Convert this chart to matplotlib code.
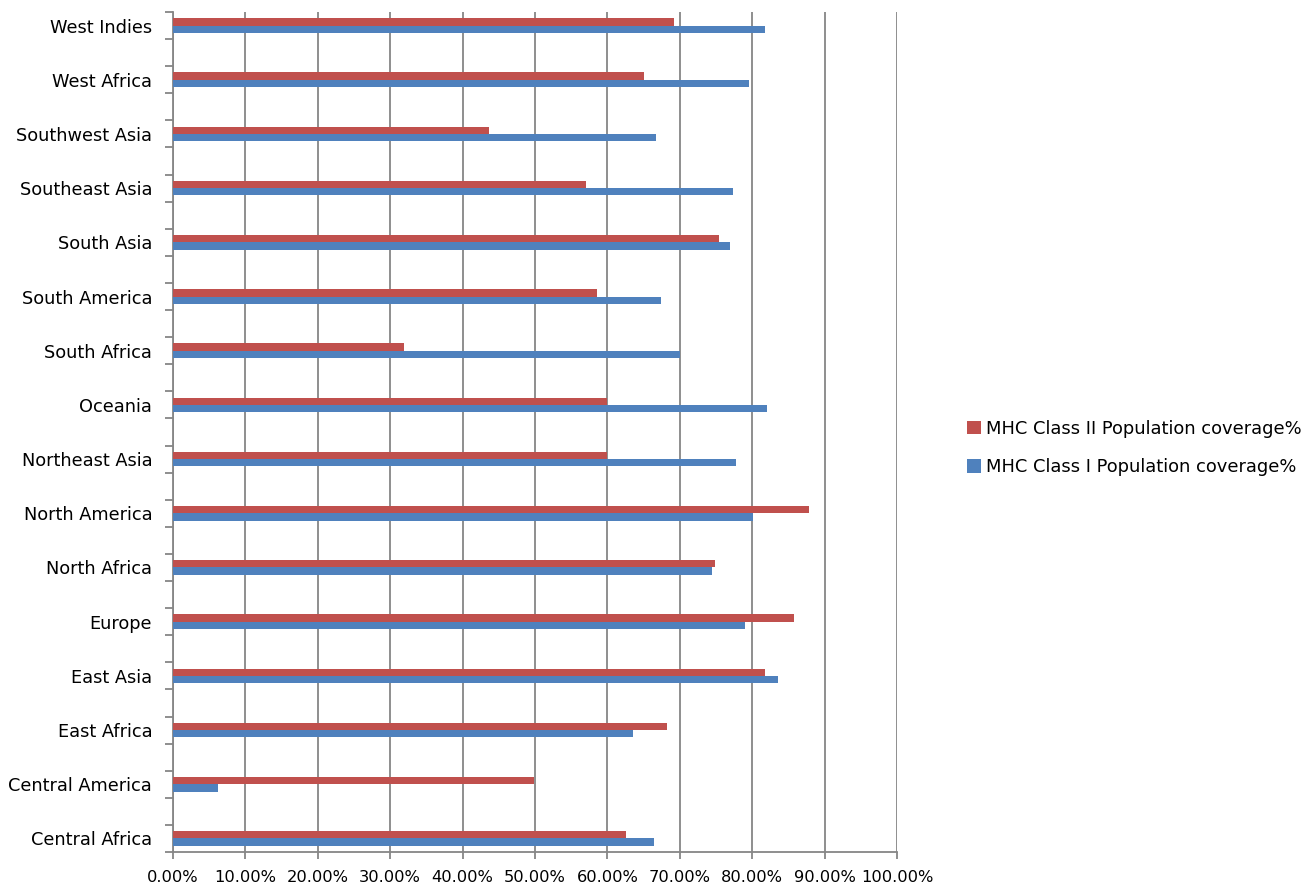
import matplotlib
matplotlib.use("Agg")
import matplotlib.pyplot as plt
from matplotlib.ticker import FixedLocator, FuncFormatter
from matplotlib.patches import Patch
import numpy as np

regions = [
    "Central Africa", "Central America", "East Africa", "East Asia", "Europe",
    "North Africa", "North America", "Northeast Asia", "Oceania", "South Africa",
    "South America", "South Asia", "Southeast Asia", "Southwest Asia",
    "West Africa", "West Indies",
]
class_i = [66.5, 6.2, 63.6, 83.6, 79.0, 74.4, 80.1, 77.8, 82.0, 70.0,
           67.4, 77.0, 77.4, 66.7, 79.5, 81.7]
class_ii = [62.6, 49.9, 68.3, 81.7, 85.8, 74.9, 87.9, 60.0, 60.0, 31.9,
            58.5, 75.4, 57.0, 43.7, 65.1, 69.2]
series_names = ["MHC Class II Population coverage%", "MHC Class I Population coverage%"]
x_ticks = np.arange(0, 101, 10)

red = "#C0504D"
blue = "#4F81BD"
grid_c = "#868686"

plt.rcParams["font.family"] = ["DejaVu Sans"]

fig = plt.figure(figsize=(13.15, 8.91), dpi=100)
W, H = 1315, 891
ax = fig.add_axes([173 / W, (H - 852) / H, (897 - 173) / W, (852 - 12) / H])

# each region gets one slot, with an empty slot between regions
pos = np.arange(len(regions)) * 2
h = 0.27
ax.barh(pos - h / 2, np.array(class_i) / 100, height=h, color=blue, zorder=3)
ax.barh(pos + h / 2, np.array(class_ii) / 100, height=h, color=red, zorder=3)

ax.set_xlim(0, 1.0)
ax.set_ylim(-0.5, pos[-1] + 0.5)

ax.xaxis.set_major_locator(FixedLocator(x_ticks / 100))
ax.xaxis.set_major_formatter(FuncFormatter(lambda v, p: f"{v * 100:.2f}%"))
ax.grid(axis="x", color=grid_c, linewidth=1.3, zorder=0)

ax.set_yticks(pos)
ax.set_yticklabels(regions)
ax.set_yticks(np.arange(-0.5, pos[-1] + 0.6, 1.0), minor=True)
ax.tick_params(axis="y", which="major", length=0, pad=15, labelsize=12.8, colors="black")
ax.tick_params(axis="y", which="minor", length=6, width=1.3, color=grid_c)
ax.tick_params(axis="x", which="major", length=5, width=1.3, color=grid_c, pad=8,
               labelsize=11.7, labelcolor="black")

for side in ["top", "right"]:
    ax.spines[side].set_visible(False)
for side in ["left", "bottom"]:
    ax.spines[side].set_color(grid_c)
    ax.spines[side].set_linewidth(1.3)

handles = [Patch(facecolor=red), Patch(facecolor=blue)]
fig.legend(handles, series_names, loc="center left",
           bbox_to_anchor=(951 / W, 1 - 448 / H), frameon=False,
           fontsize=12.9, handlelength=0.75, handleheight=0.75, handletextpad=0.3,
           labelspacing=1.15)

fig.savefig("out.png", dpi=100)
